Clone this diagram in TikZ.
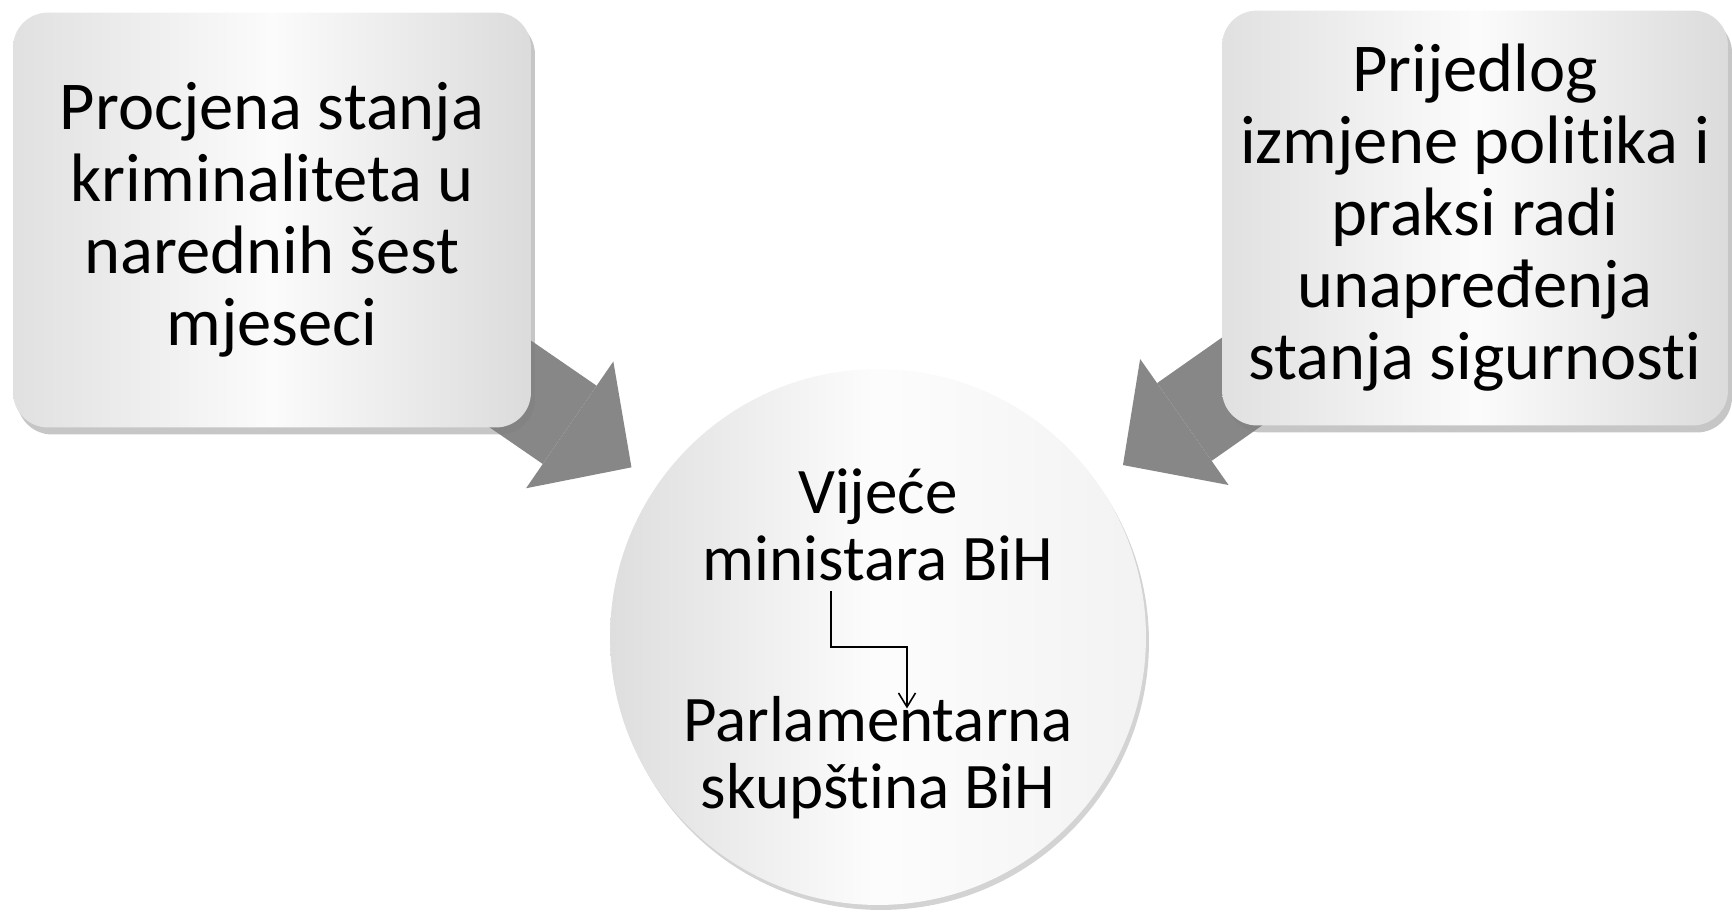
\documentclass[tikz,border=0pt]{standalone}
\usepackage{fontspec}
\setmainfont{Carlito}[Ligatures=NoCommon]
\usetikzlibrary{arrows.meta,shadows,backgrounds}

\tikzset{
  kutija/.style={rectangle, rounded corners=0.7cm, minimum height=8.3cm, align=center,
    left color=gray!24, right color=gray!28, middle color=gray!3,
    drop shadow={shadow xshift=0.08cm, shadow yshift=-0.14cm, opacity=0.45},
    font=\fontsize{39}{41}\selectfont},
  krug/.style={circle, minimum size=10.72cm, inner sep=0pt,
    left color=gray!26, right color=gray!10, middle color=gray!2,
    drop shadow={shadow xshift=0.06cm, shadow yshift=-0.1cm, opacity=0.35}},
  tekst/.style={align=center, inner sep=0pt, font=\fontsize{37}{38}\selectfont},
  strelica/.style={line width=1.9cm, black!47,
    -{Triangle[length=1.5cm, width=3.08cm, line width=0pt]}, shorten >=0.62cm}
}

\begin{document}
\begin{tikzpicture}[x=0.02cm, y=-0.02cm]
\useasboundingbox (0,0) rectangle (1732,916);

\node [kutija, minimum width=10.36cm] (procjena) at (272,220) {Procjena stanja\\kriminaliteta u\\narednih šest\\mjeseci};
\node [kutija, minimum width=10.12cm] (prijedlog) at (1475,218) {Prijedlog\\izmjene politika i\\praksi radi\\unapređenja\\stanja sigurnosti};
\node [krug] (vijece) at (878,637) {};

\node [tekst] (vmbih) at (878,525) {Vijeće\\ministara BiH};
\node [tekst] (psbih) at (878,758) {Parlamentarna\\skupština BiH};
\coordinate (lom) at (878,647);

\begin{scope}[on background layer]
\draw [strelica] (procjena.center) to (vijece);
\draw [strelica] (prijedlog.center) to (vijece);
\end{scope}

\draw [-{Straight Barb[length=0.28cm,width=0.34cm]}, line width=0.9pt] ([xshift=-0.94cm,yshift=-0.2cm]vmbih.south) |- (lom) -| ([xshift=0.58cm,yshift=-0.24cm]psbih.north);

\end{tikzpicture}
\end{document}
